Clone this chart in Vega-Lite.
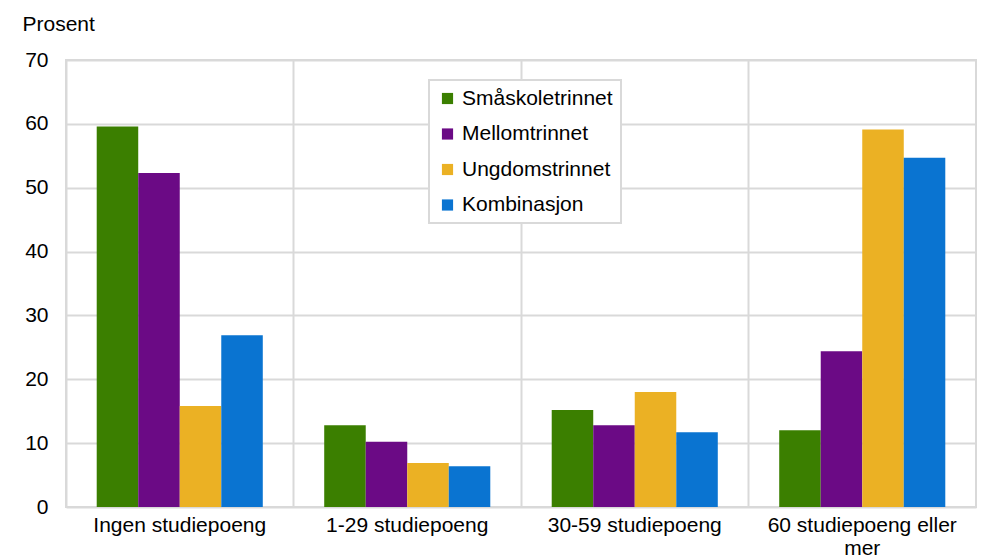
{
  "$schema": "https://vega.github.io/schema/vega-lite/v6.json",
  "width": 910,
  "height": 447,
  "autosize": {"type": "none"},
  "padding": {"left": 66, "top": 60, "right": 19, "bottom": 50},
  "background": "white",
  "config": {
    "font": "Liberation Sans",
    "view": {"stroke": "#d9d9d9", "strokeWidth": 2},
    "axis": {"gridColor": "#d9d9d9", "gridWidth": 2, "domain": false, "ticks": false, "labelColor": "#000000", "labelFontSize": 21, "labelFont": "Liberation Sans"},
    "legend": {"strokeWidth": 2}
  },
  "data": {
    "values": [
      {"kat": "Ingen studiepoeng", "trinn": "Småskoletrinnet", "v": 59.6},
      {"kat": "Ingen studiepoeng", "trinn": "Mellomtrinnet", "v": 52.3},
      {"kat": "Ingen studiepoeng", "trinn": "Ungdomstrinnet", "v": 15.8},
      {"kat": "Ingen studiepoeng", "trinn": "Kombinasjon", "v": 26.9},
      {"kat": "1-29 studiepoeng", "trinn": "Småskoletrinnet", "v": 12.8},
      {"kat": "1-29 studiepoeng", "trinn": "Mellomtrinnet", "v": 10.2},
      {"kat": "1-29 studiepoeng", "trinn": "Ungdomstrinnet", "v": 6.9},
      {"kat": "1-29 studiepoeng", "trinn": "Kombinasjon", "v": 6.4},
      {"kat": "30-59 studiepoeng", "trinn": "Småskoletrinnet", "v": 15.2},
      {"kat": "30-59 studiepoeng", "trinn": "Mellomtrinnet", "v": 12.8},
      {"kat": "30-59 studiepoeng", "trinn": "Ungdomstrinnet", "v": 18.0},
      {"kat": "30-59 studiepoeng", "trinn": "Kombinasjon", "v": 11.7},
      {"kat": "60 studiepoeng eller mer", "trinn": "Småskoletrinnet", "v": 12.0},
      {"kat": "60 studiepoeng eller mer", "trinn": "Mellomtrinnet", "v": 24.4},
      {"kat": "60 studiepoeng eller mer", "trinn": "Ungdomstrinnet", "v": 59.1},
      {"kat": "60 studiepoeng eller mer", "trinn": "Kombinasjon", "v": 54.7}
    ]
  },
  "mark": {"type": "bar"},
  "encoding": {
    "x": {
      "field": "kat",
      "type": "nominal",
      "scale": {"domain": ["Ingen studiepoeng", "1-29 studiepoeng", "30-59 studiepoeng", "60 studiepoeng eller mer"], "paddingInner": 0.27, "paddingOuter": 0.135},
      "axis": {
        "title": null,
        "labelAngle": 0,
        "labelPadding": 7,
        "labelLimit": 400,
        "grid": true,
        "bandPosition": -0.1849,
        "labelExpr": "datum.label == '60 studiepoeng eller mer' ? split('60 studiepoeng eller|mer', '|') : datum.label",
        "labelLineHeight": 23
      }
    },
    "xOffset": {
      "field": "trinn",
      "type": "nominal",
      "scale": {"domain": ["Småskoletrinnet", "Mellomtrinnet", "Ungdomstrinnet", "Kombinasjon"]}
    },
    "y": {
      "field": "v",
      "type": "quantitative",
      "scale": {"domain": [0, 70], "nice": false},
      "axis": {
        "values": [0, 10, 20, 30, 40, 50, 60, 70],
        "title": "Prosent",
        "titleAngle": 0,
        "titleAlign": "left",
        "titleBaseline": "middle",
        "titleX": -44,
        "titleY": -36,
        "titleFontSize": 21,
        "titleFontWeight": "normal",
        "titleFont": "Liberation Sans",
        "labelPadding": 18
      }
    },
    "color": {
      "field": "trinn",
      "type": "nominal",
      "scale": {
        "domain": ["Småskoletrinnet", "Mellomtrinnet", "Ungdomstrinnet", "Kombinasjon"],
        "range": ["#3b7f00", "#6b0a85", "#ebb124", "#0a74d1"]
      },
      "legend": {
        "title": null,
        "orient": "none",
        "legendX": 363,
        "legendY": 20,
        "symbolType": "square",
        "symbolSize": 125,
        "symbolStrokeWidth": 0,
        "labelFontSize": 21,
        "labelOffset": 4,
        "rowPadding": 13.5,
        "padding": 8,
        "strokeColor": "#d9d9d9",
        "fillColor": "white"
      }
    }
  }
}
